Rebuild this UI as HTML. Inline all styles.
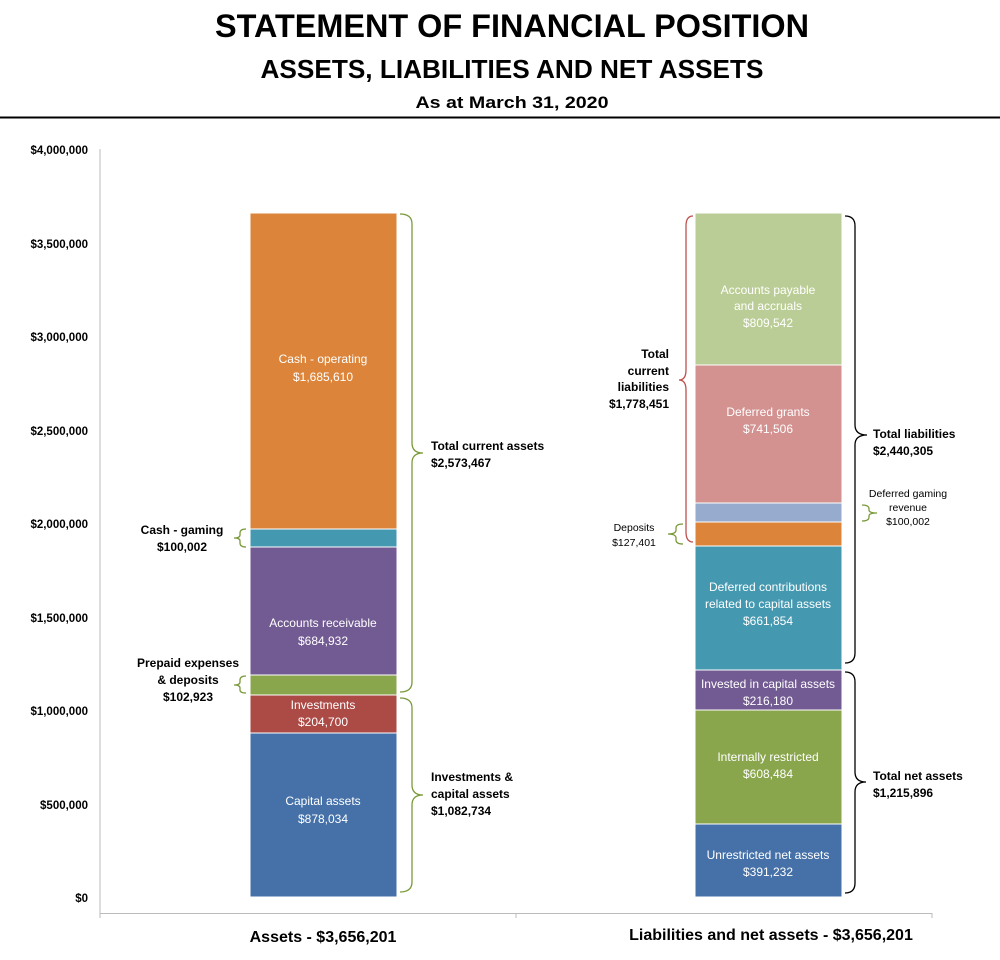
<!DOCTYPE html><html><head><style>body{margin:0;background:#fff}svg{display:block;font-family:"Liberation Sans",sans-serif}</style></head><body>
<svg width="1000" height="960" viewBox="0 0 1000 960">
<text x="512" y="37" font-size="32" font-weight="bold" text-anchor="middle" textLength="594" lengthAdjust="spacingAndGlyphs">STATEMENT OF FINANCIAL POSITION</text>
<text x="512" y="78" font-size="26" font-weight="bold" text-anchor="middle" textLength="503" lengthAdjust="spacingAndGlyphs">ASSETS, LIABILITIES AND NET ASSETS</text>
<text x="512" y="108" font-size="17" font-weight="bold" text-anchor="middle" textLength="193" lengthAdjust="spacingAndGlyphs">As at March 31, 2020</text>
<line x1="0" y1="117.5" x2="1000" y2="117.5" stroke="#000" stroke-width="2"/>
<g font-size="11.5" font-weight="bold" text-anchor="end">
<text x="88" y="154">$4,000,000</text><text x="88" y="248">$3,500,000</text><text x="88" y="341">$3,000,000</text><text x="88" y="435">$2,500,000</text><text x="88" y="528">$2,000,000</text><text x="88" y="622">$1,500,000</text><text x="88" y="715">$1,000,000</text><text x="88" y="809">$500,000</text><text x="88" y="902">$0</text>
</g>
<line x1="100" y1="149" x2="100" y2="913" stroke="#bbb"/>
<line x1="100" y1="913.5" x2="932" y2="913.5" stroke="#bbb"/>
<line x1="100" y1="913" x2="100" y2="918" stroke="#bbb"/><line x1="516" y1="913" x2="516" y2="918" stroke="#bbb"/><line x1="932" y1="913" x2="932" y2="918" stroke="#bbb"/>
<g stroke="#fff" stroke-width="1">
<rect x="250" y="213" width="147" height="316" fill="#DC853A"/>
<rect x="250" y="529" width="147" height="18" fill="#4498B0"/>
<rect x="250" y="547" width="147" height="128" fill="#725A92"/>
<rect x="250" y="675" width="147" height="20" fill="#8AA64C"/>
<rect x="250" y="695" width="147" height="38" fill="#AC4A46"/>
<rect x="250" y="733" width="147" height="164" fill="#4571A8"/>
<rect x="695" y="213" width="147" height="152" fill="#BBCD96"/>
<rect x="695" y="365" width="147" height="138" fill="#D39190"/>
<rect x="695" y="503" width="147" height="19" fill="#96ABCE"/>
<rect x="695" y="522" width="147" height="24" fill="#DC853A"/>
<rect x="695" y="546" width="147" height="124" fill="#4498B0"/>
<rect x="695" y="670" width="147" height="40" fill="#725A92"/>
<rect x="695" y="710" width="147" height="114" fill="#8AA64C"/>
<rect x="695" y="824" width="147" height="73" fill="#4571A8"/>
</g>
<g fill="#fff" font-size="12" text-anchor="middle">
<text x="323" y="363">Cash - operating</text><text x="323" y="381">$1,685,610</text>
<text x="323" y="627">Accounts receivable</text><text x="323" y="645">$684,932</text>
<text x="323" y="709">Investments</text><text x="323" y="726">$204,700</text>
<text x="323" y="805">Capital assets</text><text x="323" y="823">$878,034</text>
<text x="768" y="294">Accounts payable</text><text x="768" y="310">and accruals</text><text x="768" y="327">$809,542</text>
<text x="768" y="416">Deferred grants</text><text x="768" y="433">$741,506</text>
<text x="768" y="591">Deferred contributions</text><text x="768" y="608">related to capital assets</text><text x="768" y="625">$661,854</text>
<text x="768" y="688">Invested in capital assets</text><text x="768" y="705">$216,180</text>
<text x="768" y="761">Internally restricted</text><text x="768" y="778">$608,484</text>
<text x="768" y="859">Unrestricted net assets</text><text x="768" y="876">$391,232</text>
</g>
<g fill="none" stroke-width="1.3">
<path stroke="#7A9A3A" d="M400 214 Q412 214 412 224 L412 443 Q412 453 423 453 Q412 453 412 463 L412 682 Q412 692 400 692"/>
<path stroke="#7A9A3A" d="M400 698 Q412 698 412 708 L412 785 Q412 795 423 795 Q412 795 412 805 L412 882 Q412 892 400 892"/>
<path stroke="#7A9A3A" d="M246 529 Q240 529 240 533 L240 535 Q240 538 234 538 Q240 538 240 541 L240 543 Q240 547 246 547"/>
<path stroke="#7A9A3A" d="M246 676 Q240 676 240 680 L240 682 Q240 685 234 685 Q240 685 240 688 L240 690 Q240 693 246 693"/>
<path stroke="#C0504D" d="M693 216 Q686 216 686 226 L686 370 Q686 380 679 380 Q686 380 686 390 L686 532 Q686 542 693 542"/>
<path stroke="#7A9A3A" d="M683 524 Q676 524 676 528 L676 530 Q676 534 668 534 Q676 534 676 538 L676 540 Q676 544 683 544"/>
<path stroke="#000" d="M845 216 Q855 216 855 226 L855 425 Q855 435 867 435 Q855 435 855 445 L855 653 Q855 663 845 663"/>
<path stroke="#7A9A3A" d="M862 505 Q869 505 869 509 L869 510 Q869 513 877 513 Q869 513 869 516 L869 517 Q869 521 862 521"/>
<path stroke="#000" d="M845 672 Q855 672 855 682 L855 772 Q855 782 866 782 Q855 782 855 792 L855 883 Q855 893 845 893"/>
</g>
<g font-size="12" font-weight="bold">
<text x="431" y="450">Total current assets</text><text x="431" y="467">$2,573,467</text>
<text x="431" y="781">Investments &amp;</text><text x="431" y="798">capital assets</text><text x="431" y="815">$1,082,734</text>
<text x="873" y="438">Total liabilities</text><text x="873" y="455">$2,440,305</text>
<text x="873" y="780">Total net assets</text><text x="873" y="797">$1,215,896</text>
<g text-anchor="end"><text x="669" y="358">Total</text><text x="669" y="375">current</text><text x="669" y="391">liabilities</text><text x="669" y="408">$1,778,451</text></g>
<g text-anchor="middle"><text x="182" y="534">Cash - gaming</text><text x="182" y="551">$100,002</text>
<text x="188" y="667">Prepaid expenses</text><text x="188" y="684">&amp; deposits</text><text x="188" y="701">$102,923</text></g>
</g>
<g font-size="10.5" text-anchor="middle">
<text x="634" y="531">Deposits</text><text x="634" y="546">$127,401</text>
<text x="908" y="497">Deferred gaming</text><text x="908" y="511">revenue</text><text x="908" y="525">$100,002</text>
</g>
<text x="323" y="942" font-size="16" font-weight="bold" text-anchor="middle">Assets - $3,656,201</text>
<text x="771" y="940" font-size="16" font-weight="bold" text-anchor="middle">Liabilities and net assets - $3,656,201</text>
</svg></body></html>
